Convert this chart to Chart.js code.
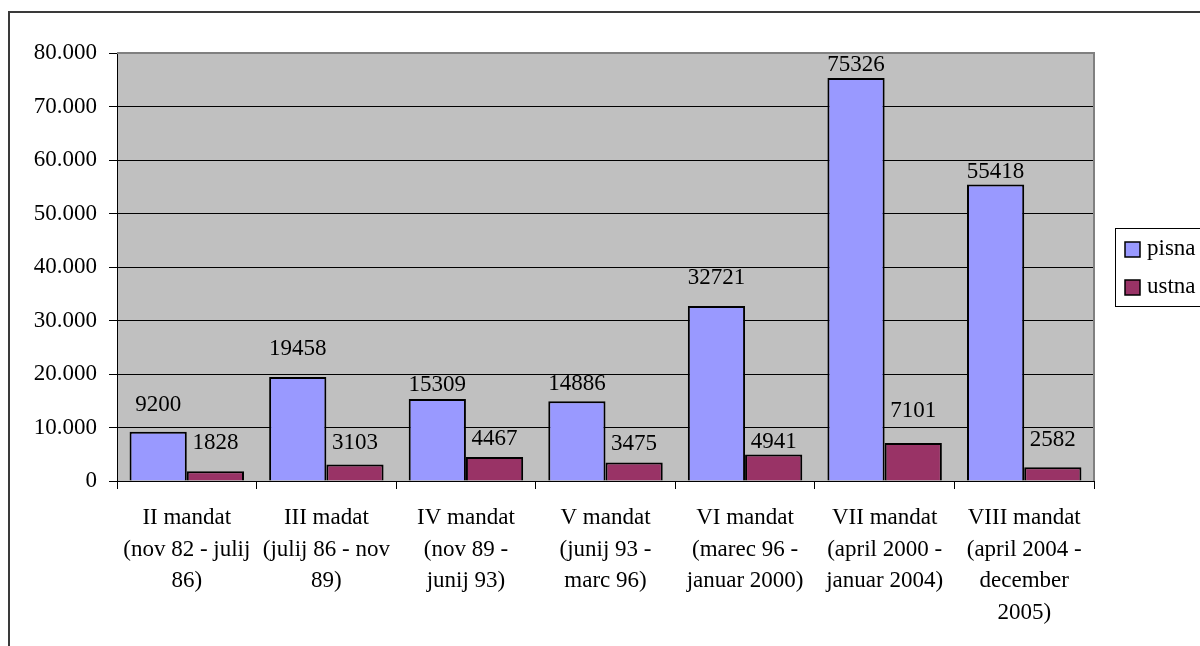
<!DOCTYPE html>
<html>
<head>
<meta charset="utf-8">
<script src="https://cdn.jsdelivr.net/npm/chart.js@4/dist/chart.umd.min.js"></script>
<style>
    html, body { margin: 0; padding: 0; background: #fff; overflow: hidden; }
    #wrap { position: absolute; left: 0; top: 0; width: 1200px; height: 646px; }
</style>
</head>
<body>
<div id="wrap"><canvas id="chart"></canvas></div>
<script>
const categories = [
    ["II mandat", "(nov 82 - julij", "86)"],
    ["III madat", "(julij 86 - nov", "89)"],
    ["IV mandat", "(nov 89 -", "junij 93)"],
    ["V mandat", "(junij 93 -", "marc 96)"],
    ["VI mandat", "(marec 96 -", "januar 2000)"],
    ["VII mandat", "(april 2000 -", "januar 2004)"],
    ["VIII mandat", "(april 2004 -", "december", "2005)"]
];
const pisna = [9200, 19458, 15309, 14886, 32721, 75326, 55418];
const ustna = [1828, 3103, 4467, 3475, 4941, 7101, 2582];
const seriesNames = ["pisna", "ustna"];

// how far above each bar top its value label sits (px), as placed in the original
const labelLift = [
    [27, 28, 14, 17, 28, 13, 13],
    [28, 21, 18, 18, 13, 32, 27]
];

const FONT = '"Liberation Serif", "Times New Roman", serif';

const frame = {
    id: 'frame',
    beforeDraw(chart) {
        const { ctx, chartArea: a } = chart;
        ctx.save();
        ctx.fillStyle = '#c0c0c0';
        ctx.fillRect(a.left, a.top, a.right - a.left, a.bottom - a.top);
        ctx.strokeStyle = '#3a3a3a';
        ctx.lineWidth = 2;
        ctx.beginPath();
        ctx.moveTo(9, 700);
        ctx.lineTo(9, 12);
        ctx.lineTo(1300, 12);
        ctx.stroke();
        ctx.restore();
    },
    afterDraw(chart) {
        const { ctx, chartArea: a } = chart;
        ctx.save();
        ctx.strokeStyle = '#808080';
        ctx.lineWidth = 2;
        ctx.beginPath();
        ctx.moveTo(a.left, a.top);
        ctx.lineTo(a.right, a.top);
        ctx.lineTo(a.right, a.bottom);
        ctx.stroke();

        // legend box
        const lx = 1115.5, ly = 228.5;
        ctx.fillStyle = '#fff';
        ctx.fillRect(lx, ly, 120, 78);
        ctx.strokeStyle = '#000';
        ctx.lineWidth = 1;
        ctx.strokeRect(lx, ly, 120, 78);
        ctx.font = '23px ' + FONT;
        ctx.textBaseline = 'middle';
        chart.data.datasets.forEach((ds, i) => {
            const cy = 249 + i * 38;
            ctx.fillStyle = ds.backgroundColor;
            ctx.fillRect(1125, cy - 7, 15, 15);
            ctx.lineWidth = 1.5;
            ctx.strokeRect(1125, cy - 7, 15, 15);
            ctx.fillStyle = '#000';
            ctx.fillText(ds.label, 1147, cy);
        });
        ctx.restore();
    }
};

const valueLabels = {
    id: 'valueLabels',
    afterDatasetsDraw(chart) {
        const { ctx } = chart;
        ctx.save();
        ctx.font = '23px ' + FONT;
        ctx.fillStyle = '#000';
        ctx.textAlign = 'center';
        ctx.textBaseline = 'middle';
        chart.data.datasets.forEach((ds, i) => {
            chart.getDatasetMeta(i).data.forEach((bar, j) => {
                ctx.fillText(String(ds.data[j]), bar.x, bar.y - labelLift[i][j]);
            });
        });
        ctx.restore();
    }
};

new Chart(document.getElementById('chart'), {
    type: 'bar',
    data: {
        labels: categories,
        datasets: [
            { label: seriesNames[0], data: pisna, backgroundColor: '#9999ff' },
            { label: seriesNames[1], data: ustna, backgroundColor: '#993366' }
        ]
    },
    options: {
        responsive: true,
        maintainAspectRatio: false,
        animation: false,
        devicePixelRatio: 1,
        layout: { padding: { left: 0, top: 53, right: 106, bottom: 0 } },
        datasets: {
            bar: {
                borderColor: '#000',
                borderWidth: 2,
                categoryPercentage: 0.82,
                barPercentage: 1
            }
        },
        plugins: {
            legend: { display: false },
            tooltip: { enabled: false }
        },
        scales: {
            x: {
                afterFit: s => { s.height = 165; },
                grid: {
                    drawOnChartArea: false,
                    drawTicks: true,
                    tickLength: 8,
                    color: '#000',
                    offset: true
                },
                border: { color: '#000', width: 1 },
                ticks: {
                    autoSkip: false,
                    maxRotation: 0,
                    minRotation: 0,
                    padding: 13,
                    color: '#000',
                    font: { family: FONT, size: 23, lineHeight: 1.38 }
                }
            },
            y: {
                min: 0,
                max: 80000,
                afterFit: s => { s.width = 117; },
                grid: {
                    color: '#000',
                    lineWidth: 1,
                    tickLength: 8
                },
                border: { color: '#000', width: 1 },
                ticks: {
                    stepSize: 10000,
                    padding: 12,
                    color: '#000',
                    font: { family: FONT, size: 23 },
                    callback: v => String(v).replace(/\B(?=(\d{3})+(?!\d))/g, '.')
                }
            }
        }
    },
    plugins: [frame, valueLabels]
});
</script>
</body>
</html>
